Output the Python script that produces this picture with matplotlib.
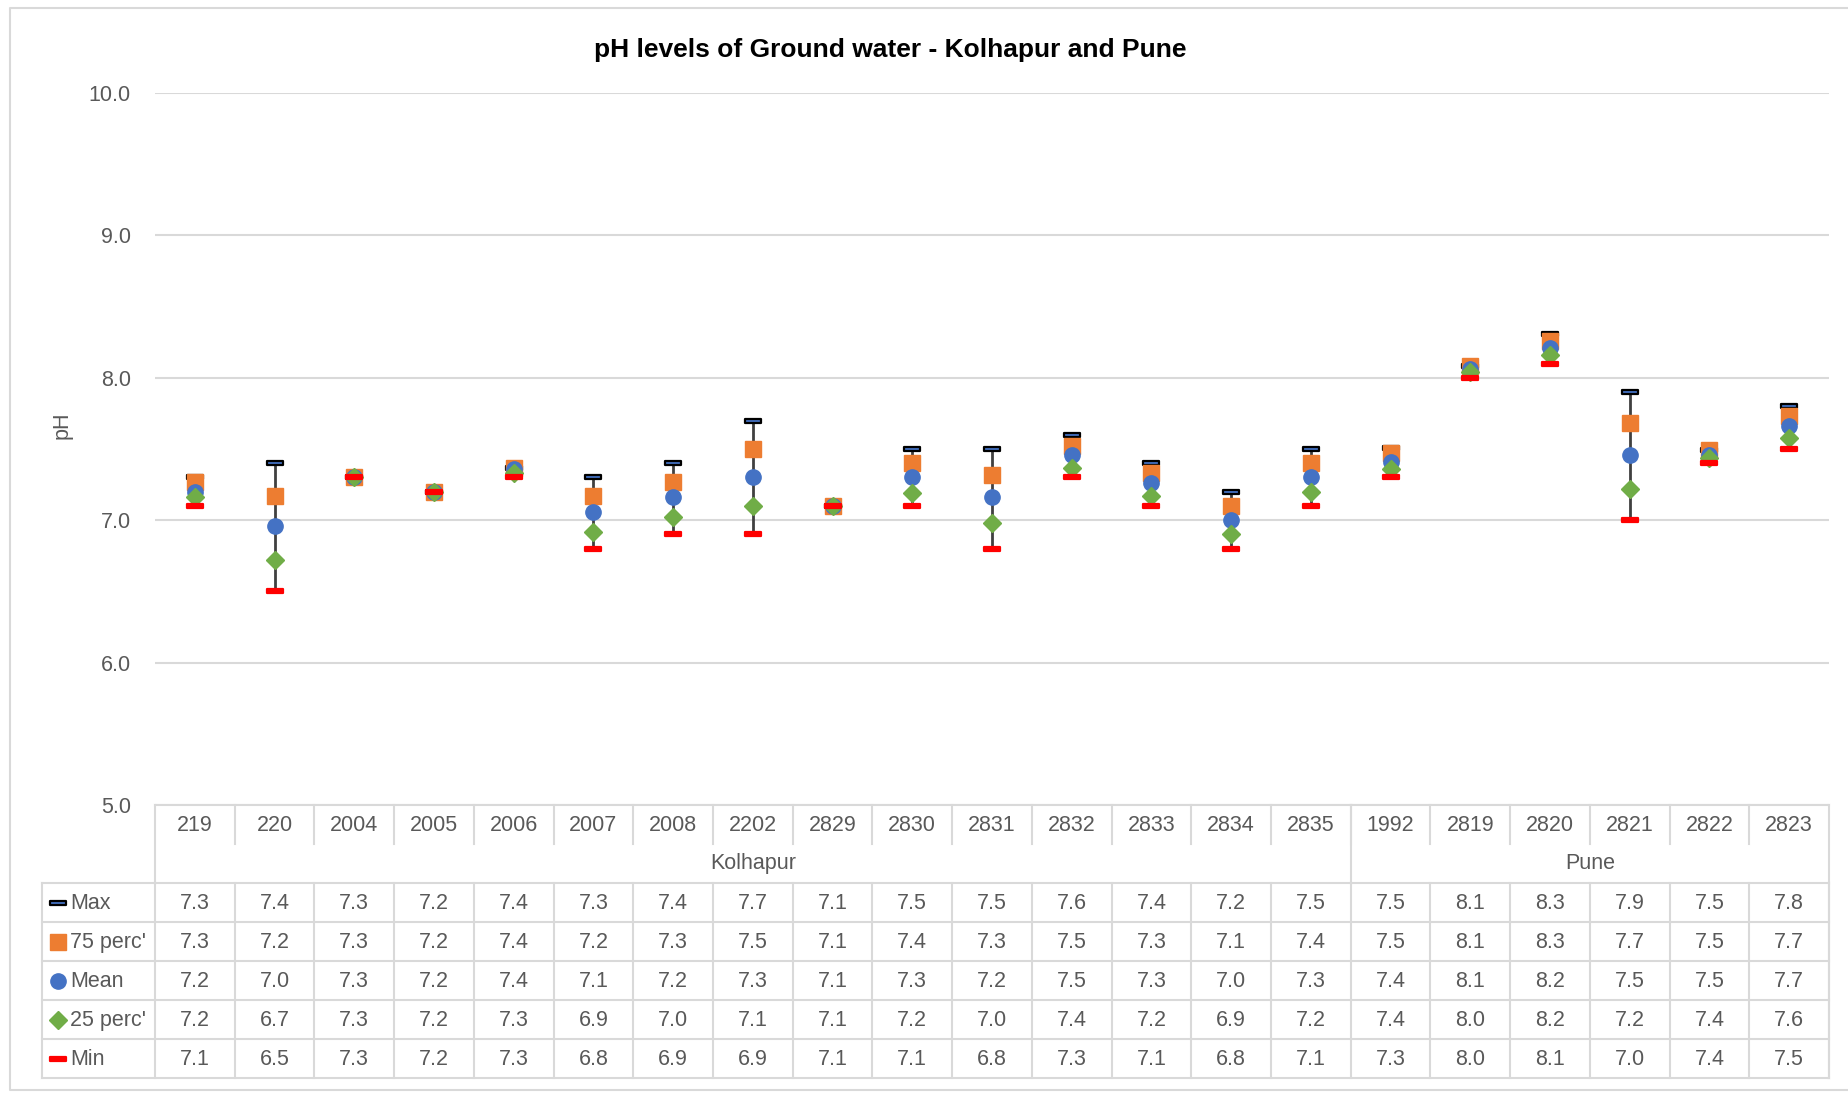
import numpy as np
import matplotlib
matplotlib.use('Agg')
import matplotlib.pyplot as plt
from matplotlib.path import Path

plt.rcParams['font.family'] = ['Liberation Sans Narrow', 'Liberation Sans', 'DejaVu Sans']

# station codes and district groups
stations = ['219', '220', '2004', '2005', '2006', '2007', '2008', '2202', '2829', '2830',
            '2831', '2832', '2833', '2834', '2835',
            '1992', '2819', '2820', '2821', '2822', '2823']
groups = ['Kolhapur', 'Pune']
group_sizes = [15, 6]

# pH statistics per station
ph_max = [7.30, 7.40, 7.30, 7.20, 7.37, 7.30, 7.40, 7.70, 7.10, 7.50,
          7.50, 7.60, 7.40, 7.20, 7.50,
          7.51, 8.08, 8.31, 7.90, 7.49, 7.80]
ph_75 = [7.27, 7.17, 7.30, 7.20, 7.37, 7.17, 7.27, 7.50, 7.10, 7.40,
         7.32, 7.52, 7.33, 7.10, 7.40,
         7.47, 8.08, 8.26, 7.68, 7.49, 7.73]
ph_mean = [7.20, 6.96, 7.30, 7.20, 7.36, 7.06, 7.16, 7.30, 7.10, 7.30,
           7.16, 7.46, 7.26, 7.00, 7.30,
           7.41, 8.06, 8.21, 7.46, 7.46, 7.66]
ph_25 = [7.16, 6.72, 7.30, 7.20, 7.33, 6.92, 7.02, 7.10, 7.10, 7.19,
         6.98, 7.37, 7.17, 6.90, 7.20,
         7.36, 8.04, 8.16, 7.22, 7.44, 7.58]
ph_min = [7.10, 6.50, 7.30, 7.20, 7.30, 6.80, 6.90, 6.90, 7.10, 7.10,
          6.80, 7.30, 7.10, 6.80, 7.10,
          7.30, 8.00, 8.10, 7.00, 7.40, 7.50]

series_names = ['Max', "75 perc'", 'Mean', "25 perc'", 'Min']

W, H = 1848, 1093
txt = '#595959'
line_c = '#D9D9D9'
fs = 15.5

fig = plt.figure(figsize=(W / 100, H / 100), dpi=100)

# plot area in pixels
px_l, px_r, px_t, px_b = 155, 1829, 93, 805
ax = fig.add_axes([px_l / W, 1 - px_b / H, (px_r - px_l) / W, (px_b - px_t) / H])

x = np.arange(len(stations))
dash = Path([(-1, -0.3), (1, -0.3), (1, 0.3), (-1, 0.3), (-1, -0.3)],
            [Path.MOVETO, Path.LINETO, Path.LINETO, Path.LINETO, Path.CLOSEPOLY])

ax.vlines(x, ph_min, ph_max, color='#404040', lw=2, zorder=2)
ax.plot(x, ph_max, ls='none', marker=dash, ms=11, mfc='#4472C4', mec='black', mew=1.6, zorder=3)
ax.plot(x, ph_75, ls='none', marker='s', ms=11, color='#ED7D31', zorder=4)
ax.plot(x, ph_mean, ls='none', marker='o', ms=11, color='#4472C4', zorder=5)
ax.plot(x, ph_25, ls='none', marker='D', ms=9.5, color='#70AD47', zorder=6)
ax.plot(x, ph_min, ls='none', marker=dash, ms=11, mfc='#FF0000', mec='#FF0000', mew=1.6, zorder=7)

ax.set_xlim(-0.5, len(stations) - 0.5)
ax.set_ylim(5, 10)
ax.set_yticks(np.arange(5, 10.5, 1))
ax.set_yticklabels([f'{v:.1f}' for v in np.arange(5, 10.5, 1)])
ax.set_xticks([])
ax.tick_params(axis='y', length=0, pad=17.5, labelsize=fs, labelcolor=txt)
ax.grid(axis='y', color=line_c, lw=1.5)
ax.set_axisbelow(True)
for s in ax.spines.values():
    s.set_visible(False)

fig.text(890 / W, 1 - 50 / H, 'pH levels of Ground water - Kolhapur and Pune',
         ha='center', va='center', fontsize=19, fontweight='bold', color='black')

# overlay axes in pixel coordinates for the data table
ov = fig.add_axes([0, 0, 1, 1])
ov.set_xlim(0, W)
ov.set_ylim(H, 0)
ov.axis('off')

ov.text(62, 425, 'pH', rotation=90, ha='center', va='center', fontsize=fs, color=txt)

# outer chart border
ov.plot([W, 10, 10, W], [8, 8, 1090, 1090], color=line_c, lw=1.5)

n = len(stations)
cw = (px_r - px_l) / n
edges = [px_l + i * cw for i in range(n + 1)]
rows = [805, 844, 883, 922, 961, 1000, 1039, 1078]
lab_l = 42

# header: station codes
ov.plot([px_l, px_r], [rows[0], rows[0]], color=line_c, lw=1.5)
for e in edges[1:-1]:
    ov.plot([e, e], [rows[0], rows[1]], color=line_c, lw=1.5)
for i, s in enumerate(stations):
    ov.text((edges[i] + edges[i + 1]) / 2, (rows[0] + rows[1]) / 2 + 1, s,
            ha='center', va='center', fontsize=fs, color=txt)

# header: groups
start = 0
for g, k in zip(groups, group_sizes):
    ov.text((edges[start] + edges[start + k]) / 2, (rows[1] + rows[2]) / 2, g,
            ha='center', va='center', fontsize=fs, color=txt)
    ov.plot([edges[start], edges[start]], [rows[0], rows[2]], color=line_c, lw=1.5)
    start += k
ov.plot([px_r, px_r], [rows[0], rows[-1]], color=line_c, lw=1.5)

# data rows
for r in rows[2:]:
    ov.plot([lab_l, px_r], [r, r], color=line_c, lw=1.5)
for e in [lab_l] + edges:
    ov.plot([e, e], [rows[2], rows[-1]], color=line_c, lw=1.5)

keys = [dict(marker=dash, ms=11, mfc='#4472C4', mec='black', mew=1.6),
        dict(marker='s', ms=11, color='#ED7D31'),
        dict(marker='o', ms=11, color='#4472C4'),
        dict(marker='D', ms=9.5, color='#70AD47'),
        dict(marker=dash, ms=11, mfc='#FF0000', mec='#FF0000', mew=1.6)]
series = [ph_max, ph_75, ph_mean, ph_25, ph_min]
for j, (name, vals, kk) in enumerate(zip(series_names, series, keys)):
    yc = (rows[2 + j] + rows[3 + j]) / 2
    ov.plot([58], [yc], ls='none', **kk)
    ov.text(70, yc + 1, name, ha='left', va='center', fontsize=fs, color=txt)
    for i, v in enumerate(vals):
        ov.text((edges[i] + edges[i + 1]) / 2, yc + 1, f'{v:.1f}',
                ha='center', va='center', fontsize=fs, color=txt)

fig.savefig('out.png', dpi=100)
